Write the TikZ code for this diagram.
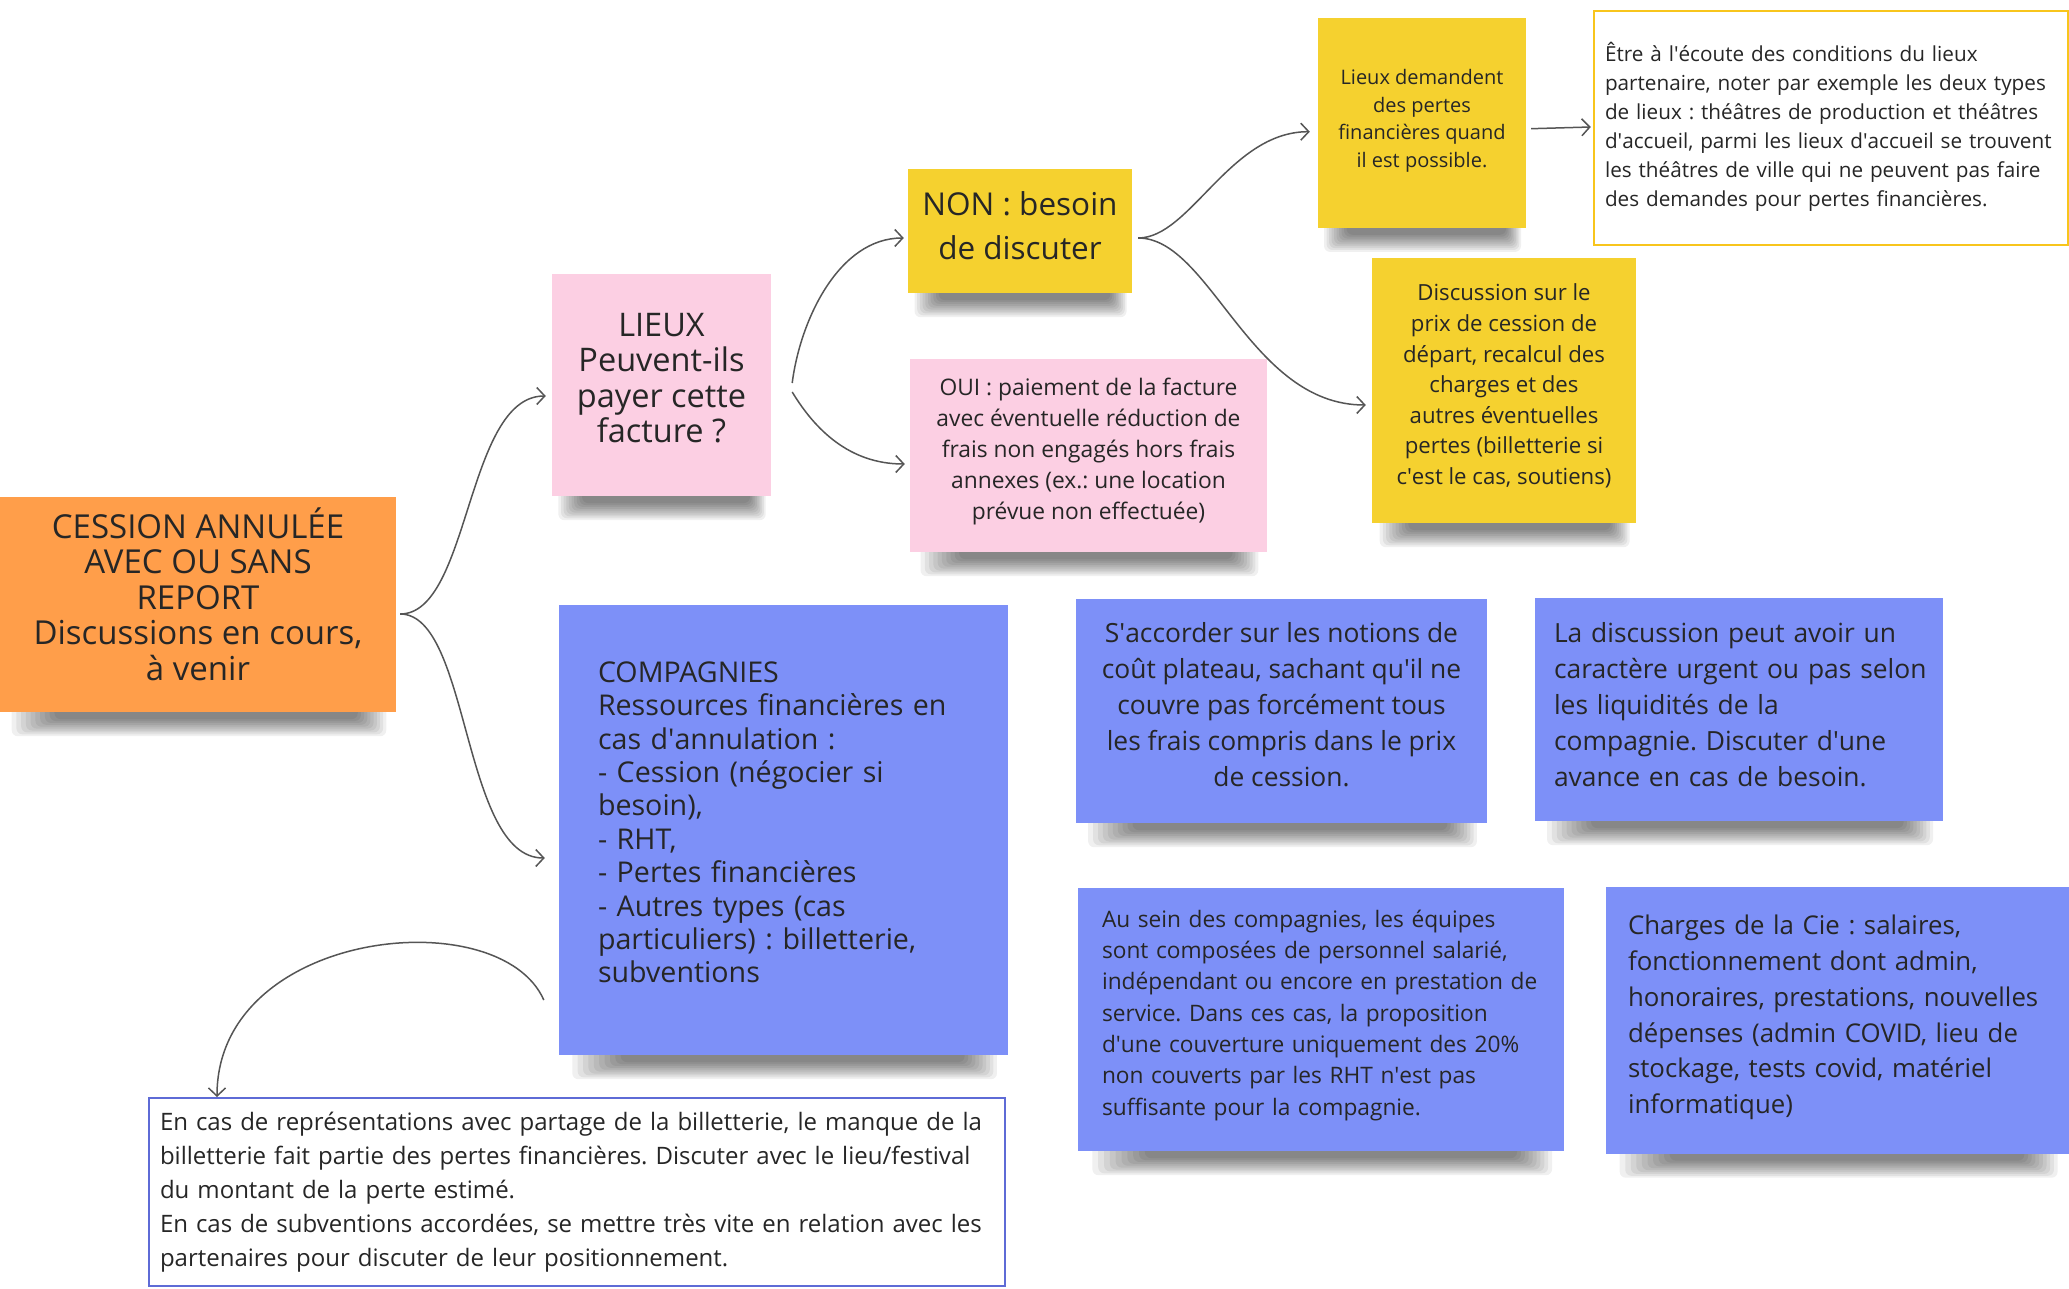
\documentclass[tikz,border=0pt]{standalone}
\usepackage{fontspec}
\setmainfont{Open Sans}
\usetikzlibrary{arrows.meta,calc}
\definecolor{orangeN}{HTML}{FF9E4A}
\definecolor{pinkN}{HTML}{FCCFE3}
\definecolor{yellowN}{HTML}{F5D12F}
\definecolor{blueN}{HTML}{7D90F8}
\definecolor{lineC}{HTML}{555555}
\definecolor{yBord}{HTML}{F8C51C}
\definecolor{bBord}{HTML}{5E6BD6}
\definecolor{txtC}{HTML}{262626}
\frenchspacing
\pgfdeclarelayer{bg}
\pgfsetlayers{bg,main}
\newcommand{\ap}{\textquotesingle}
\newcommand{\fs}[2]{\fontsize{#1}{#2}\selectfont}
\newcommand{\ctr}[2][0pt]{\raisebox{#1}[\height][\depth]{\begin{tabular}{@{}c@{}}#2\end{tabular}}}
\newcommand{\lft}[2][0pt]{\raisebox{#1}[\height][\depth]{\begin{tabular}{@{}l@{}}#2\end{tabular}}}
\newcommand{\nshadow}[1]{%
  \begin{pgfonlayer}{bg}
  \foreach \i [evaluate=\i as \a using 0.03+0.012*\i,
               evaluate=\i as \b using 0.975-0.008*\i,
               evaluate=\i as \d using 24-1.9*\i] in {0,...,9}{
    \fill[black, opacity=0.058, rounded corners=6pt]
      ($(#1.south west)!\a!(#1.south east)+(0,-10)$) rectangle
      ($(#1.south west)!\b!(#1.south east)+(0,\d)$);
  }
  \end{pgfonlayer}}
\tikzset{
  note/.style={inner sep=0pt, text=txtC},
  framed/.style={inner sep=0pt, text=txtC, fill=white},
  conn/.style={draw=lineC, line width=1.5pt,
    -{Straight Barb[length=8pt,width=17pt]}}
}
\begin{document}
\begin{tikzpicture}[x=1pt,y=-1pt]
\begin{pgfonlayer}{bg}
\fill[white] (0,0) rectangle (2069,1289);
\end{pgfonlayer}
\useasboundingbox (0,0) rectangle (2069,1289);

\node[note, fill=orangeN, minimum width=396pt, minimum height=215pt,
  font=\fs{33}{35.5}] (cess) at (198,604.5)
  {\ctr[5pt]{CESSION ANNULÉE\\AVEC OU SANS\\REPORT\\Discussions en cours,\\à venir}};
\nshadow{cess}

\node[note, fill=pinkN, minimum width=219pt, minimum height=222pt,
  font=\fs{32.5}{35.5}] (lieux) at (661.5,385)
  {\ctr[2.5pt]{LIEUX\\Peuvent-ils\\payer cette\\facture ?}};
\nshadow{lieux}

\node[note, fill=yellowN, minimum width=224pt, minimum height=124pt,
  font=\fs{31.5}{43.5}] (non) at (1020,231)
  {\ctr[2pt]{NON : besoin\\de discuter}};
\nshadow{non}

\node[note, fill=pinkN, minimum width=357pt, minimum height=193pt,
  font=\fs{22.8}{31}] (oui) at (1088.5,455.5)
  {\ctr[4.3pt]{OUI : paiement de la facture\\avec éventuelle réduction de\\frais non engagés hors frais\\annexes (ex.: une location\\prévue non effectuée)}};
\nshadow{oui}

\node[note, fill=yellowN, minimum width=208pt, minimum height=210pt,
  font=\fs{20}{27.7}] (ld) at (1422,122.7)
  {\ctr[2.3pt]{Lieux demandent\\des pertes\\financières quand\\il est possible.}};
\nshadow{ld}

\node[framed, draw=yBord, line width=2.5pt, minimum width=474pt, minimum height=234pt,
  text width=452pt, align=left, font=\fs{20.7}{29}] (wbox) at (1831,128)
  {\lft{Être à l\ap écoute des conditions du lieux\\partenaire, noter par exemple les deux types\\de lieux : théâtres de production et théâtres\\d\ap accueil, parmi les lieux d\ap accueil se trouvent\\les théâtres de ville qui ne peuvent pas faire\\des demandes pour pertes financières.}};

\node[note, fill=yellowN, minimum width=264pt, minimum height=265pt,
  font=\fs{22.2}{30.6}] (disc) at (1504,390.5)
  {\ctr[4pt]{Discussion sur le\\prix de cession de\\départ, recalcul des\\charges et des\\autres éventuelles\\pertes (billetterie si\\c\ap est le cas, soutiens)}};
\nshadow{disc}

\node[note, fill=blueN, minimum width=449pt, minimum height=450pt, text width=371pt,
  align=left, font=\fs{28.6}{33.4}] (comp) at (783.5,830)
  {\lft[4pt]{COMPAGNIES\\Ressources financières en\\cas d\ap annulation :\\- Cession (négocier si\\besoin),\\- RHT,\\- Pertes financières\\- Autres types (cas\\particuliers) : billetterie,\\subventions}};
\nshadow{comp}

\node[note, fill=blueN, minimum width=411pt, minimum height=224pt,
  font=\fs{26.4}{36}] (acc) at (1281.5,711)
  {\ctr[3.5pt]{S\ap accorder sur les notions de\\coût plateau, sachant qu\ap il ne\\couvre pas forcément tous\\les frais compris dans le prix\\de cession.}};
\nshadow{acc}

\node[note, fill=blueN, minimum width=408pt, minimum height=223pt, text width=370pt,
  align=left, font=\fs{26.4}{36}] (urg) at (1739,709.5)
  {\lft[2pt]{La discussion peut avoir un\\caractère urgent ou pas selon\\les liquidités de la\\compagnie. Discuter d\ap une\\avance en cas de besoin.}};
\nshadow{urg}

\node[note, fill=blueN, minimum width=486pt, minimum height=263pt, text width=438pt,
  align=left, font=\fs{22.7}{31.3}] (sein) at (1321,1019.5)
  {\lft[4.5pt]{Au sein des compagnies, les équipes\\sont composées de personnel salarié,\\indépendant ou encore en prestation de\\service. Dans ces cas, la proposition\\d\ap une couverture uniquement des 20\%\\non couverts par les RHT n\ap est pas\\suffisante pour la compagnie.}};
\nshadow{sein}

\node[note, fill=blueN, minimum width=463pt, minimum height=267pt, text width=419pt,
  align=left, font=\fs{25.8}{35.8}] (chg) at (1837.5,1020)
  {\lft[3pt]{Charges de la Cie : salaires,\\fonctionnement dont admin,\\honoraires, prestations, nouvelles\\dépenses (admin COVID, lieu de\\stockage, tests covid, matériel\\informatique)}};
\nshadow{chg}

\node[framed, draw=bBord, line width=2pt, minimum width=856pt, minimum height=188pt,
  text width=834pt, align=left, font=\fs{24.0}{34}] (bot) at (577,1192)
  {\lft{En cas de représentations avec partage de la billetterie, le manque de la\\billetterie fait partie des pertes financières. Discuter avec le lieu/festival\\du montant de la perte estimé.\\En cas de subventions accordées, se mettre très vite en relation avec les\\partenaires pour discuter de leur positionnement.}};

% connectors
\draw[conn] ($(cess.east)+(4,9.5)$) .. controls +(70,0) and +(-80,0) .. ($(lieux.west)+(-6,11)$);
\draw[conn] ($(cess.east)+(4,9.5)$) .. controls +(70,0) and +(-83,0) .. ($(comp.west)+(-14,28)$);
\draw[conn] ($(lieux.east)+(21,-2)$) .. controls +(8,-63) and +(-65,0) .. ($(non.west)+(-4,7)$);
\draw[conn] ($(lieux.east)+(21,7)$) .. controls +(23,38) and +(-55,0) .. ($(oui.west)+(-5,8.5)$);
\draw[conn] ($(non.east)+(6,7)$) .. controls +(52,0) and +(-80,0) .. ($(ld.west)+(-8,9)$);
\draw[conn] ($(non.east)+(6,7)$) .. controls +(72,0) and +(-116,0) .. ($(disc.west)+(-6,14.5)$);
\draw[conn] ($(ld.east)+(5,6)$) -- ($(wbox.west)+(-2,-1)$);
\draw[conn] ($(comp.west)+(-15,170)$) .. controls +(-44,-100) and +(0,-168) .. ($(bot.north west)+(69,0)$);
\end{tikzpicture}
\end{document}
